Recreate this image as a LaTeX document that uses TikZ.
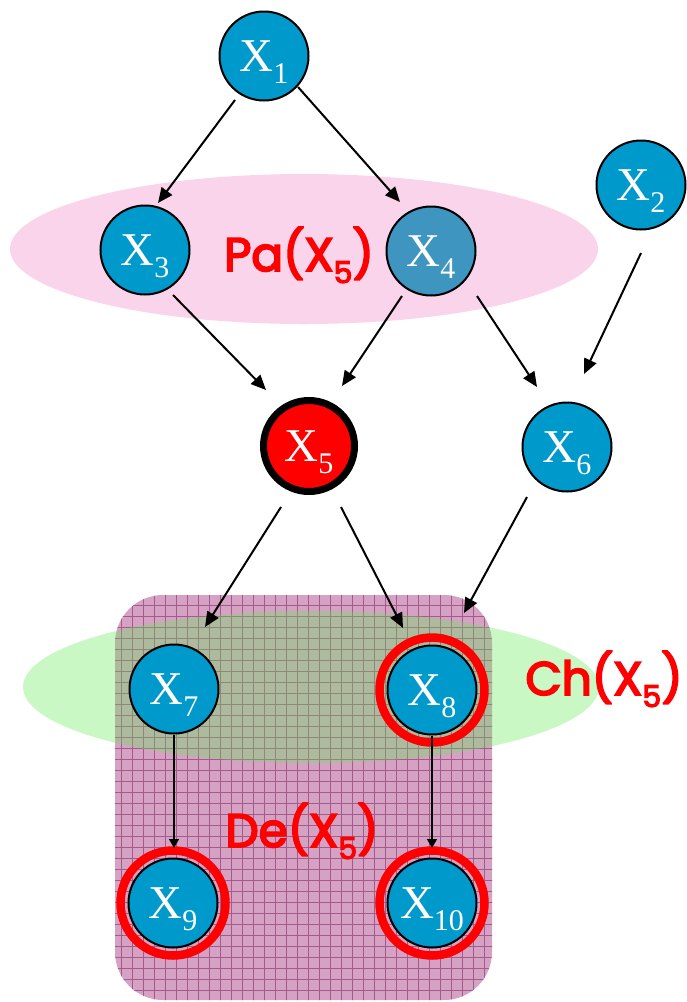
\documentclass[tikz,border=0pt]{standalone}
\usepackage{fontspec}
\setmainfont{Liberation Serif}
\newfontfamily\labfont{Poppins}[FakeBold=4]
\usetikzlibrary{calc,arrows.meta}
\definecolor{nodeblue}{RGB}{0,153,204}
\definecolor{nodeblueB}{RGB}{62,150,192}
\definecolor{pinkfill}{RGB}{250,212,234}
\definecolor{greenfill}{RGB}{90,235,80}
\definecolor{boxfill}{RGB}{214,162,196}
\definecolor{boxline}{RGB}{165,90,140}
\definecolor{ringred}{RGB}{255,0,0}
\newcommand{\xsub}[1]{\raisebox{-12pt}{\fontsize{30}{30}\selectfont #1}}
\newcommand{\lsub}[1]{\raisebox{-12pt}{\fontsize{30}{30}\selectfont #1}}
\begin{document}
\begin{tikzpicture}[x=1pt,y=-1pt,
  var/.style={circle, draw=black, line width=2pt, fill=nodeblue, minimum size=89pt, inner sep=0pt, text=white, font=\fontsize{47}{47}\selectfont, text height=31pt, text depth=0pt},
  ring/.style={draw=ringred, line width=8.5pt},
  arr/.style={line width=2pt, -{Triangle[length=15pt,width=13pt]}},
  sarr/.style={line width=1.4pt, -{Triangle[length=9pt,width=10pt]}},
  setlab/.style={anchor=base, text=red, font=\labfont\fontsize{47}{47}\selectfont, inner sep=0pt}
]
\useasboundingbox (0,0) rectangle (686,1002);
% parent set
\fill[pinkfill] (304,249) ellipse [x radius=294pt, y radius=75pt];
% descendant box
\fill[boxfill, rounded corners=48pt] (115,595) rectangle (492,1000);
\begin{scope}
  \clip[rounded corners=48pt] (115,595) rectangle (492,1000);
  \draw[boxline, line width=0.9pt, step=11pt] (110,590) grid (500,1005);
\end{scope}
% children set
\fill[greenfill, fill opacity=0.33] (311,687) ellipse [x radius=288pt, y radius=76pt];

% nodes
\node[var] (X1) at (264,56) {X\xsub{1}};
\node[var] (X2) at (641,185) {X\xsub{2}};
\node[var] (X3) at (145,250) {X\xsub{3}};
\node[var, fill=nodeblueB] (X4) at (431,251) {X\xsub{4}};
\node[var, fill=red, line width=7pt, minimum size=91pt] (X5) at (309,446) {X\xsub{5}};
\node[var] (X6) at (567,447) {X\xsub{6}};
\node[var] (X7) at (174,689) {X\xsub{7}};
\node[var] (X8) at (432,690) {X\xsub{8}};
\node[var] (X9) at (173,903) {X\xsub{9}};
\node[var] (X10) at (432,903) {X\xsub{10}};

% rings
\draw[ring] (X8) circle (52.5pt);
\draw[ring] (X9) circle (52.5pt);
\draw[ring] (X10) circle (52.5pt);

% arrows
\draw[arr] ($(X1)+(-29,44)$) -- ($(X3)+(13,-47)$);
\draw[arr] ($(X1)+(34,31)$) -- ($(X4)+(-31,-49)$);
\draw[arr] ($(X3)+(28,45)$) -- ($(X5)+(-43,-56)$);
\draw[arr] ($(X4)+(-29,45)$) -- ($(X5)+(33,-60)$);
\draw[arr] ($(X4)+(46,45)$) -- ($(X6)+(-30,-60)$);
\draw[arr] ($(X2)+(0,68)$) -- ($(X6)+(17,-73)$);
\draw[arr] ($(X5)+(-28,61)$) -- ($(X7)+(31,-62)$);
\draw[arr] ($(X5)+(32,61)$) -- ($(X8)+(-29,-62)$);
\draw[arr] ($(X6)+(-40,50)$) -- ($(X8)+(32,-77)$);
\draw[sarr] (X7.south) -- ($(X9)+(1,-55)$);
\draw[sarr] (X8.south) -- ($(X10)+(0,-55)$);

% set labels
\node[setlab] (pa) at (299,271) {Pa(X\lsub{5})};
\node[setlab] (ch) at (604,695) {Ch(X\lsub{5})};
\node[setlab] (de) at (302,847) {De(X\lsub{5})};
\end{tikzpicture}
\end{document}
